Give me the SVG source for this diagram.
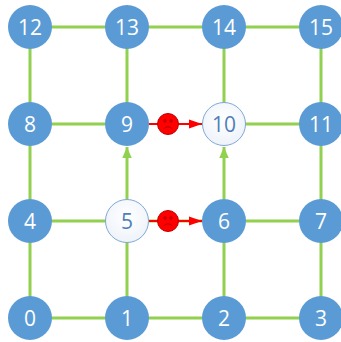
<svg xmlns="http://www.w3.org/2000/svg" width="341" height="342" viewBox="0 0 341 342">
<defs>
<style>
.e{stroke:#92D050;stroke-width:3;fill:none}
.n{fill:#5B9BD5}
.w{fill:url(#wg);stroke:#7FA8D3;stroke-width:1}
.t{font-family:"Open Sans","Liberation Sans",sans-serif;font-size:21px;text-anchor:middle;dominant-baseline:central;fill:#fff}
.tw{fill:#4F7FB8}
.r{stroke:#FF0000;stroke-width:2;fill:none}
.f{fill:#FF0000;stroke:#C00000;stroke-width:1}
.fc{fill:none;stroke:#A00000;stroke-width:0.8}
</style>
<radialGradient id="wg" cx="0.5" cy="0.4" r="0.6"><stop offset="0" stop-color="#ffffff"/><stop offset="1" stop-color="#EEF3FA"/></radialGradient>
<marker id="ga" viewBox="0 0 10 10" refX="10" refY="5" markerWidth="3.7" markerHeight="3.2" orient="auto" markerUnits="strokeWidth" preserveAspectRatio="none"><path d="M0,0L10,5L0,10z" fill="#92D050"/></marker>
<marker id="ra" viewBox="0 0 10 10" refX="10" refY="5" markerWidth="6.5" markerHeight="4.6" orient="auto" markerUnits="strokeWidth" preserveAspectRatio="none"><path d="M0,0L10,5L0,10z" fill="#FF0000"/></marker>
</defs>
<g id="connectors">
<path class="e" d="M30,27H321M30,124H105M244,124H321M30,221H321M30,318H321"/>
<path class="e" d="M30,27V318M127,27V124M224,27V124M321,27V318M127,221V318M224,221V318"/>
<path class="e" d="M127,199V147" marker-end="url(#ga)"/>
<path class="e" d="M224,199V147" marker-end="url(#ga)"/>
<path class="r" d="M149,124H202" marker-end="url(#ra)"/>
<path class="r" d="M149,221H202" marker-end="url(#ra)"/>
</g>
<g id="n0"><circle class="n" cx="30" cy="318" r="22"/><text class="t" x="30" y="318">0</text></g>
<g id="n1"><circle class="n" cx="127" cy="318" r="22"/><text class="t" x="127" y="318">1</text></g>
<g id="n2"><circle class="n" cx="224" cy="318" r="22"/><text class="t" x="224" y="318">2</text></g>
<g id="n3"><circle class="n" cx="321" cy="318" r="22"/><text class="t" x="321" y="318">3</text></g>
<g id="n4"><circle class="n" cx="30" cy="221" r="22"/><text class="t" x="30" y="221">4</text></g>
<g id="n5"><circle class="w" cx="127" cy="221" r="21.5"/><text class="t tw" x="127" y="221">5</text></g>
<g id="n6"><circle class="n" cx="224" cy="221" r="22"/><text class="t" x="224" y="221">6</text></g>
<g id="n7"><circle class="n" cx="321" cy="221" r="22"/><text class="t" x="321" y="221">7</text></g>
<g id="n8"><circle class="n" cx="30" cy="124" r="22"/><text class="t" x="30" y="124">8</text></g>
<g id="n9"><circle class="n" cx="127" cy="124" r="22"/><text class="t" x="127" y="124">9</text></g>
<g id="n10"><circle class="w" cx="224" cy="124" r="21.5"/><text class="t tw" x="224" y="124">10</text></g>
<g id="n11"><circle class="n" cx="321" cy="124" r="22"/><text class="t" x="321" y="124">11</text></g>
<g id="n12"><circle class="n" cx="30" cy="27" r="22"/><text class="t" x="30" y="27">12</text></g>
<g id="n13"><circle class="n" cx="127" cy="27" r="22"/><text class="t" x="127" y="27">13</text></g>
<g id="n14"><circle class="n" cx="224" cy="27" r="22"/><text class="t" x="224" y="27">14</text></g>
<g id="n15"><circle class="n" cx="321" cy="27" r="22"/><text class="t" x="321" y="27">15</text></g>
<g id="s1"><circle class="f" cx="168" cy="124" r="10.5"/><circle class="fc" cx="165" cy="121" r="1.3"/><circle class="fc" cx="171" cy="121" r="1.3"/><path class="fc" d="M163.5,129Q168,124.5 172.5,129"/></g>
<g id="s2"><circle class="f" cx="168" cy="221" r="10.5"/><circle class="fc" cx="165" cy="218" r="1.3"/><circle class="fc" cx="171" cy="218" r="1.3"/><path class="fc" d="M163.5,226Q168,221.5 172.5,226"/></g>
</svg>
